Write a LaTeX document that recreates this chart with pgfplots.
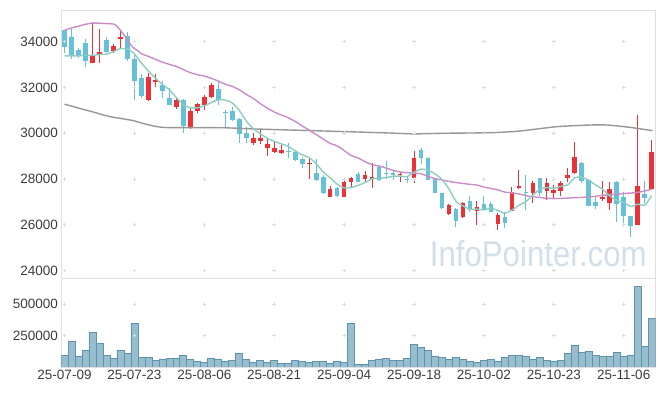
\documentclass[border=0pt]{standalone}
\usepackage{fontspec}
\setmainfont{Liberation Sans}
\usepackage{graphicx}
\usepackage{pgfplots}
\usepackage{pgfplotstable}
\pgfplotsset{compat=1.18}
\definecolor{upc}{RGB}{235,50,56}
\definecolor{dnc}{RGB}{102,192,218}
\definecolor{maA}{RGB}{140,205,192}
\definecolor{maB}{RGB}{202,140,198}
\definecolor{maC}{RGB}{150,150,150}
\definecolor{volf}{RGB}{150,190,206}
\definecolor{vole}{RGB}{96,146,172}
\definecolor{framec}{RGB}{224,224,224}
\definecolor{crossc}{RGB}{220,220,220}
\definecolor{wm}{RGB}{208,223,233}
\definecolor{tickc}{RGB}{60,60,60}

\pgfplotstableread{
i o h l c
4 33060 34850 33060 33420
5 33460 34540 33060 33550
7 33610 33900 33500 33810
8 34120 34510 33710 34200
12 31470 32620 31400 32460
13 32250 32600 32000 32310
16 31135 31572 31060 31454
18 30260 31090 30190 30990
19 30990 31340 30900 31280
20 31236 31670 31020 31572
21 31572 32180 31540 32110
27 29590 30000 29490 29780
28 29680 30190 29530 29780
29 29370 29780 29010 29530
30 29200 29650 29150 29340
31 29130 29560 29100 29270
35 28650 28910 27990 28715
38 27230 27700 27230 27550
40 27231 27960 27231 27886
41 27886 28100 27600 28035
43 28004 28354 27843 28178
44 28000 28690 27600 28090
48 28166 28320 27890 28237
50 28035 29240 27843 28908
55 26476 26900 26432 26870
57 26330 27000 26300 26970
59 26620 27057 25995 26770
62 26039 26500 25780 26432
64 26620 27640 26620 27450
65 27610 28400 27560 27700
67 27406 27900 26970 27843
69 27480 28035 27087 27843
70 27406 27740 27160 27510
71 27494 27900 27262 27843
72 28062 28470 27886 28166
73 28250 29607 28222 28950
77 27117 27920 27057 27200
78 26943 27886 26650 27567
82 25995 30800 25995 27700
84 27580 29707 27524 29183
}\up

\pgfplotstableread{
i o h l c
0 34500 34520 33500 33780
1 34200 34550 33250 33420
2 33650 33740 33280 33420
3 33940 34120 32880 33170
6 34070 34200 33500 33560
9 34250 34440 33150 33230
10 33250 33400 31450 32300
11 32400 32590 31560 31630
14 32110 32280 31530 31860
15 31530 31990 31240 31240
17 31454 31500 30030 30330
22 31935 32250 31236 31454
23 30930 31017 30290 30873
24 30987 31135 30540 30581
25 30610 30650 29590 29970
26 30026 30290 29590 29808
32 29240 29560 28910 29200
33 29170 29250 28800 28834
34 28880 28950 28470 28650
36 28280 28860 27900 27960
37 28100 28200 27360 27410
39 27600 27650 27230 27262
42 28220 28320 27860 27886
45 28540 28600 27920 27960
46 28280 28800 27990 28210
47 28280 28350 27960 28166
49 28000 28130 27820 27960
51 29270 29344 28660 28908
52 28908 28950 27960 27960
53 28035 28035 27400 27406
54 27406 27406 26680 26725
56 26695 26720 25895 26183
58 27057 27275 26576 26650
60 26913 27275 26650 26695
61 26913 27000 26550 26576
63 26330 26576 25850 26096
66 27450 28180 26650 27406
68 28035 28035 27262 27380
74 28690 28760 27850 27930
75 27974 28000 26825 26825
76 26987 27262 26680 26825
79 27886 27930 26113 26913
80 27231 27420 25995 26388
81 26388 26388 25458 25952
83 27334 27917 26943 27160
}\down

\pgfplotstableread{
i v
0 95000
1 205000
2 86000
3 134000
4 278000
5 190000
6 94000
7 70000
8 134000
9 110000
10 350000
11 78000
12 78000
13 54000
14 62000
15 70000
16 70000
17 94000
18 62000
19 42000
20 37000
21 70000
22 62000
23 46000
24 54000
25 110000
26 62000
27 38000
28 54000
29 38000
30 54000
31 30000
32 30000
33 54000
34 46000
35 38000
36 46000
37 46000
38 30000
39 46000
40 38000
41 350000
42 22000
43 22000
44 54000
45 62000
46 70000
47 54000
48 54000
49 70000
50 182000
51 158000
52 134000
53 86000
54 78000
55 62000
56 78000
57 62000
58 46000
59 38000
60 54000
61 62000
62 46000
63 78000
64 94000
65 94000
66 86000
67 62000
68 78000
69 54000
70 46000
71 54000
72 110000
73 174000
74 118000
75 126000
76 94000
77 86000
78 86000
79 118000
80 86000
81 94000
82 645000
83 166000
84 390000
}\vol

\pgfplotsset{
  panel/.style={
    width=594.2pt, scale only axis, xmin=-0.43, xmax=84.57,
    axis line style={draw=framec, line width=0.8pt},
    tick style={draw=none},
    ticklabel style={font=\fontsize{13.5}{15}\selectfont, text=tickc},
    /pgf/number format/assume math mode=true,
    /pgf/number format/1000 sep={},
    scaled y ticks=false,
    yticklabel style={/pgf/number format/fixed},
  },
  wick/.style={draw=none, no markers, forget plot,
    error bars/.cd, y dir=plus, y explicit, error mark=none,
    error bar style={draw=#1, line width=1pt, solid}},
  body/.style={draw=none, no markers, forget plot,
    error bars/.cd, y dir=plus, y explicit, error mark=none,
    error bar style={draw=#1, line width=4.7pt, solid}},
  crosses/.style={only marks, mark=+, mark size=1.8pt, color=crossc, forget plot,
    mark options={line width=0.9pt}},
}

\begin{document}
\begin{tikzpicture}
\path[use as bounding box] (-61.5pt,-29pt) rectangle (603.5pt,367pt);

% price panel
\begin{axis}[panel, at={(0pt,88.7pt)}, anchor=south west, height=268.3pt,
  ymin=23668, ymax=35384, ytick={24000,26000,28000,30000,32000,34000},
  xtick=\empty]
  \pgfplotsinvokeforeach{0,10,...,80}{
    \addplot[crosses]
      coordinates {(#1,24000) (#1,26000) (#1,28000) (#1,30000) (#1,32000) (#1,34000)};
  }
  \node[anchor=base east, inner sep=0pt, text=wm] at (axis cs:83.3,24174)
    {\resizebox{216.7pt}{26pt}{\fontsize{31}{31}\selectfont InfoPointer.com}};

  % candles
  \addplot[wick=upc] table[x=i, y=l, y error plus expr={\thisrow{h}-\thisrow{l}}] {\up};
  \addplot[body=upc] table[x=i, y=o, y error plus expr={\thisrow{c}-\thisrow{o}}] {\up};
  \addplot[wick=dnc] table[x=i, y=l, y error plus expr={\thisrow{h}-\thisrow{l}}] {\down};
  \addplot[body=dnc] table[x=i, y=c, y error plus expr={\thisrow{o}-\thisrow{c}}] {\down};

  % moving averages
  \addplot[maC, line width=1.4pt, smooth, tension=0.4] coordinates {
    (0,31270) (1,31190) (2,31100) (3,31017) (4,30940) (5,30850) (6.5,30725)
    (8,30650) (9.9,30550) (11,30450) (12.7,30319) (14,30260) (15.6,30245)
    (19.4,30245) (23,30240) (27.3,30188) (35.6,30114) (45.2,30026) (50,29975)
    (54,30000) (61,30026) (65.2,30100) (70.4,30288) (75.2,30362) (77.6,30362)
    (80.9,30259) (84.1,30114)};
  \addplot[maB, line width=1.4pt, smooth, tension=0.4] coordinates {
    (0,34500) (1,34600) (2,34680) (3,34760) (4,34810) (5,34810) (6,34790) (7,34770)
    (7.5,34680) (8,34500) (8.5,34300) (9,34100) (9.5,33850) (10,33700) (10.5,33600)
    (11,33470) (12,33360) (13,33230) (14,33110) (15,33010) (16,32920) (17,32780)
    (18,32650) (19,32560) (20,32500) (21,32400) (22,32280) (23,32140) (24,32050)
    (25,31900) (26,31700) (27,31520) (28,31300) (29,31100) (30,30930) (31,30800)
    (32,30680) (33,30520) (34,30320) (35,30140) (36,29950) (37,29750) (38,29560)
    (39,29450) (40,29250) (41,29030) (42,28920) (43,28760) (44,28630) (45,28570)
    (46,28480) (47,28380) (48,28310) (49,28280) (50,28260) (51,28230) (52,28120)
    (53,28020) (54,27960) (55,27900) (56,27850) (57,27810) (58,27770) (59,27740)
    (60,27650) (61,27590) (62,27530) (63,27430) (64,27400) (65,27350) (66,27280)
    (67,27230) (68,27200) (69,27160) (70,27150) (71,27155) (72,27170) (73,27190)
    (74,27200) (75,27220) (76,27250) (77,27290) (78,27320) (79,27345) (80,27370)
    (81,27390) (82,27420) (83,27480) (84,27560)};
  \addplot[maA, line width=1.4pt, smooth, tension=0.4] coordinates {
    (0,33380) (1,33380) (2,33380) (3,33400) (4,33400) (5,33440) (6,33460) (7,33560)
    (8,33700) (9,33680) (10,33470) (11,33060) (12,32720) (13,32400) (14,32140)
    (15,31900) (16,31560) (17,31250) (18,31120) (19,31110) (20,31200) (21,31340)
    (22,31470) (23,31450) (24,31320) (25,31000) (26,30540) (27,30200) (28,29980)
    (29,29780) (30,29650) (31,29540) (32,29424) (33,29235) (34,29059) (35,28934)
    (36,28672) (37,28314) (38,28057) (39,27779) (40,27614) (41,27629) (42,27724)
    (43,27849) (44,28015) (45,28030) (46,28065) (47,28121) (48,28133) (49,28107)
    (50,28296) (51,28436) (52,28395) (53,28228) (54,27981) (55,27574) (56,27029)
    (57,26831) (58,26680) (59,26689) (60,26654) (61,26732) (62,26625) (63,26514)
    (64,26650) (65,26851) (66,27017) (67,27299) (68,27556) (69,27634) (70,27596)
    (71,27684) (72,27748) (73,28062) (74,28080) (75,27943) (76,27739) (77,27546)
    (78,27269) (79,27066) (80,26979) (81,26804) (82,26904) (83,26860) (84,27277)};
\end{axis}

% volume panel
\begin{axis}[panel, at={(0pt,0pt)}, anchor=south west, height=88.7pt,
  ymin=0, ymax=707000, ytick={250000,500000},
  xtick={0,10,...,80},
  xticklabels={25-07-09,25-07-23,25-08-06,25-08-21,25-09-04,25-09-18,25-10-02,25-10-23,25-11-06}]
  \pgfplotsinvokeforeach{0,10,...,80}{
    \addplot[crosses] coordinates {(#1,250000) (#1,500000)};
  }
  \addplot[ybar, bar width=6.99pt, fill=volf, draw=vole, line width=0.7pt] table[x=i, y=v] {\vol};
\end{axis}
\end{tikzpicture}
\end{document}
